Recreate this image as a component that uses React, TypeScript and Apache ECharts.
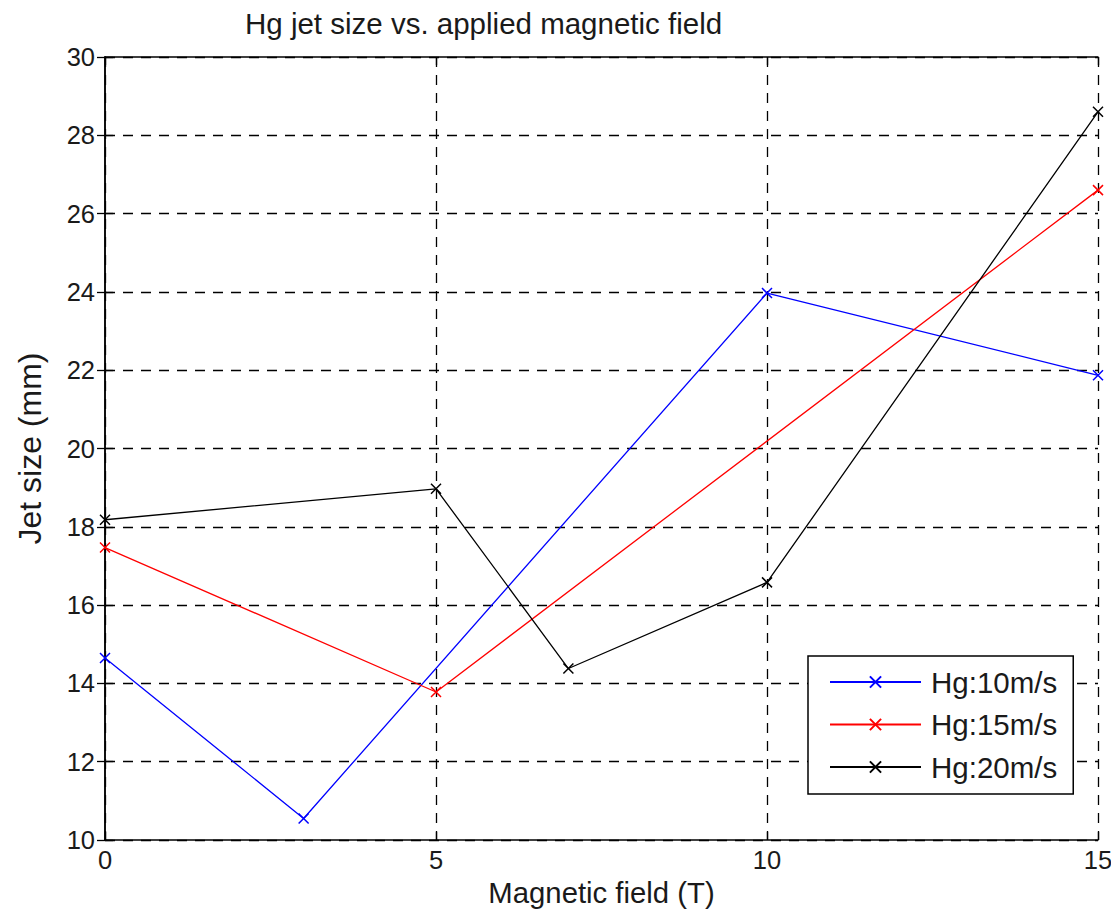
import React, { useEffect, useRef } from "react";
import * as echarts from "echarts";

const titleText = "Hg jet size vs. applied magnetic field";
const xName = "Magnetic field (T)";
const yName = "Jet size (mm)";

const seriesNames = ["Hg:10m/s", "Hg:15m/s", "Hg:20m/s"];
const seriesColors = ["#0000ff", "#ff0000", "#000000"];

const blueX = [0, 3, 10, 15];
const blueY = [14.65, 10.55, 23.97, 21.87];
const redX = [0, 5, 15];
const redY = [17.47, 13.78, 26.6];
const blackX = [0, 5, 7, 10, 15];
const blackY = [18.18, 18.97, 14.38, 16.58, 28.6];

const xTicks = { min: 0, max: 15, interval: 5 };
const yTicks = { min: 10, max: 30, interval: 2 };

const xMark = "path://M0,0L10,10M10,0L0,10";

function pairs(xs: number[], ys: number[]) {
  return xs.map((x, i) => [x, ys[i]]);
}

export default function App() {
  const ref = useRef<HTMLDivElement>(null);
  useEffect(() => {
    if (!ref.current) return;
    const chart = echarts.init(ref.current, null, { renderer: "svg" });
    const font = "'Liberation Sans', Arial, sans-serif";
    const dashed = { show: true, lineStyle: { color: "#000", type: [10, 8] as any, width: 1.3 } };
    const axisLine = { show: true, lineStyle: { color: "#000", width: 1.5 } };
    const tick = { show: true, inside: true, length: 8, lineStyle: { color: "#000", width: 1.3 } };
    const datas = [pairs(blueX, blueY), pairs(redX, redY), pairs(blackX, blackY)];
    chart.setOption({
      animation: false,
      backgroundColor: "#fff",
      title: {
        text: titleText,
        left: 240,
        top: 3,
        textStyle: { fontFamily: font, fontSize: 29.5, fontWeight: "normal", color: "#1a1a1a" },
      },
      grid: { left: 105, right: 21, top: 57, bottom: 79 },
      legend: {
        orient: "vertical",
        left: 808,
        top: 656,
        padding: [11, 16, 12, 21],
        itemGap: 12.5,
        itemWidth: 91,
        itemHeight: 14,
        borderColor: "#000",
        borderWidth: 1.5,
        backgroundColor: "#fff",
        textStyle: { fontFamily: font, fontSize: 29.5, color: "#1a1a1a", padding: [0, 0, 0, 5] },
        data: seriesNames,
      },
      xAxis: [
        {
          type: "value",
          ...xTicks,
          name: xName,
          nameLocation: "middle",
          nameGap: 37,
          nameTextStyle: { fontFamily: font, fontSize: 29.3, color: "#1a1a1a" },
          axisLine,
          axisTick: tick,
          axisLabel: { fontFamily: font, fontSize: 25.5, color: "#1a1a1a", margin: 7 },
          splitLine: dashed,
        },
        {
          type: "value",
          ...xTicks,
          position: "top",
          axisLine,
          axisTick: tick,
          axisLabel: { show: false },
          splitLine: { show: false },
        },
      ],
      yAxis: [
        {
          type: "value",
          ...yTicks,
          name: yName,
          nameLocation: "middle",
          nameGap: 59,
          nameTextStyle: { fontFamily: font, fontSize: 32, color: "#1a1a1a" },
          axisLine,
          axisTick: tick,
          axisLabel: { fontFamily: font, fontSize: 25.5, color: "#1a1a1a", margin: 10 },
          splitLine: dashed,
        },
        {
          type: "value",
          ...yTicks,
          position: "right",
          axisLine,
          axisTick: tick,
          axisLabel: { show: false },
          splitLine: { show: false },
        },
      ],
      series: seriesNames.map((name, i) => ({
        name,
        type: "line",
        data: datas[i],
        symbol: xMark,
        symbolSize: 10,
        showAllSymbol: true,
        lineStyle: { color: seriesColors[i], width: 1.3 },
        itemStyle: { color: "none", borderColor: seriesColors[i], borderWidth: 1.5 },
        emphasis: { disabled: true },
        z: 3,
      })),
    });
    return () => chart.dispose();
  }, []);
  return <div ref={ref} style={{ width: 1119, height: 919, margin: -8 }} />;
}
